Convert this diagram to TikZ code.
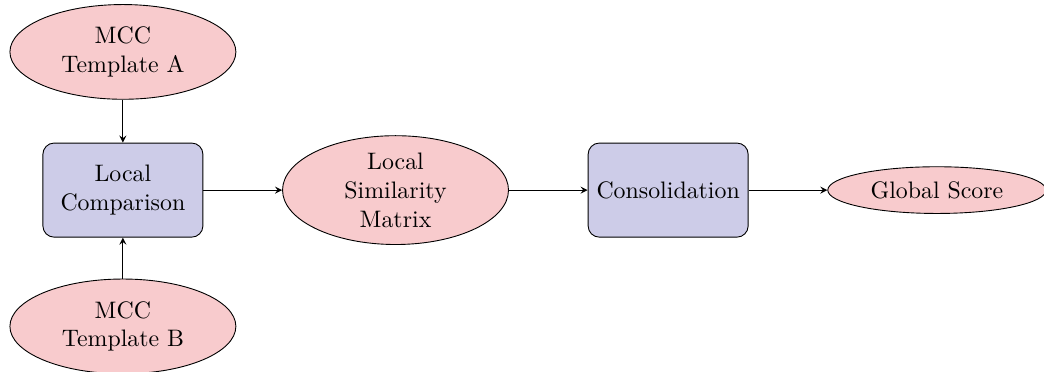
\documentclass[tikz,border=0pt]{standalone}
\usepackage{xcolor}
\usepackage{tikz}
\usetikzlibrary{shapes.geometric, arrows, positioning}

\definecolor{rosa}{RGB}{248,203,205}
\definecolor{lilas}{RGB}{205,204,232}

\begin{document}
\begin{tikzpicture}[
		    every node/.style={draw, inner sep=0pt, align=center, font=\fontsize{10.6}{12.8}\selectfont},
		    node distance=1.23cm, >=stealth
		]
		\tikzset{
		    dado/.style={ellipse, fill=rosa, minimum width=3.53cm, minimum height=1.48cm},
		    processo/.style={rectangle, rounded corners=5pt, fill=lilas, minimum width=2.5cm, minimum height=1.47cm},
		    seta/.style={->}
		}
		\useasboundingbox (0,0) rectangle (16.31,-5.81);
		\node[processo] (comp) at (1.92,-2.97) {Local\\Comparison};
		\node[dado, above=0.67cm of comp] (tplA) {MCC\\Template A};
		\node[dado, below=0.64cm of comp] (tplB) {MCC\\Template B};
		\node[dado, right=of comp, minimum height=1.70cm] (sim) {Local\\Similarity\\Matrix};
		\node[processo, right=of sim] (cons) {Consolidation};
		\node[dado, right=of cons, minimum width=3.41cm, minimum height=0.73cm] (score) {Global Score};
		% ligacoes
		\draw[seta] (tplA) -- (comp);
		\draw[seta] (tplB) -- (comp);
		\draw[seta] (comp) -- (sim);
		\draw[seta] (sim) -- (cons);
		\draw[seta] (cons) -- (score);
		\end{tikzpicture}
\end{document}
